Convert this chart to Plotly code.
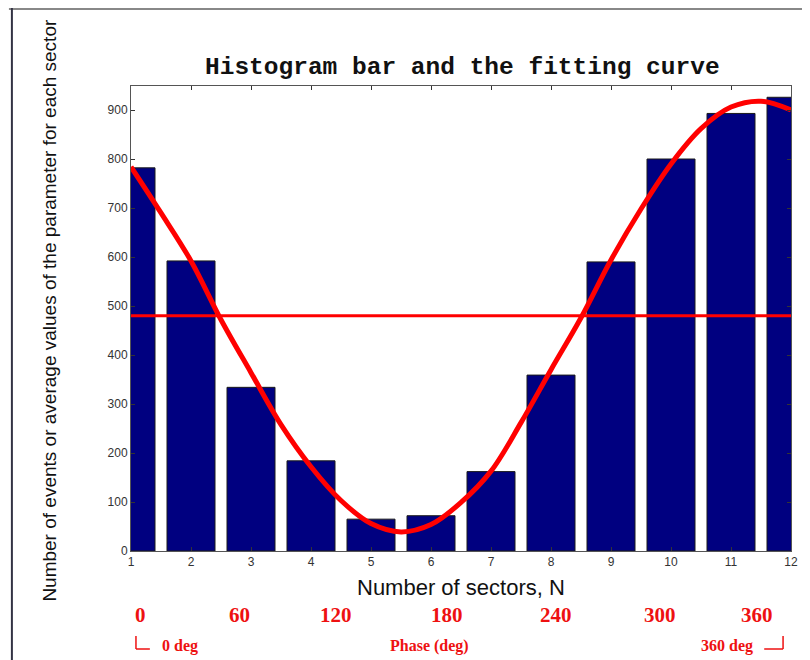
import plotly.graph_objects as go

# ---------------- data ----------------
sectors = [1, 2, 3, 4, 5, 6, 7, 8, 9, 10, 11, 12]
counts = [782, 592, 334, 184, 65, 72, 162, 359, 590, 800, 893, 926]

mean_level = 480

curve_x = [1.0, 1.5, 2.0, 2.5, 3.0, 3.5, 4.0, 4.5, 5.0, 5.5, 6.0, 6.5,
           7.0, 7.5, 8.0, 8.5, 9.0, 9.5, 10.0, 10.5, 11.0, 11.5, 12.0]
curve_y = [784, 690, 592, 472, 364, 258, 172, 103, 56, 39, 54, 99,
           163, 262, 370, 476, 594, 698, 790, 862, 906, 918, 900]

y_ticks = [0, 100, 200, 300, 400, 500, 600, 700, 800, 900]
phase_labels = ["0", "60", "120", "180", "240", "300", "360"]

# ---------------- layout helpers ----------------
# page body has an 8px margin, so the figure is drawn 8px right/down
OFF = 8
W, H = 810 - OFF, 660 - OFF
PL, PR, PT, PB = 131, 796, 86, 551          # plot area in window pixels
L, T = PL - OFF, PT - OFF
R = W - (PR - OFF)
B = H - (PB - OFF)
PW, PH = PR - PL, PB - PT


def px(x):
    return (x - PL) / PW


def py(y):
    return (PB - y) / PH


fig = go.Figure()
fig.add_trace(go.Bar(
    x=sectors, y=counts, width=0.8,
    marker=dict(color="#000080", line=dict(color="#1a1a1a", width=1)),
    showlegend=False, hoverinfo="skip"))
fig.add_trace(go.Scatter(
    x=[sectors[0], sectors[-1]], y=[mean_level, mean_level], mode="lines",
    line=dict(color="#ff0000", width=3), showlegend=False))
fig.add_trace(go.Scatter(
    x=curve_x, y=curve_y, mode="lines",
    line=dict(color="#ff0000", width=5, shape="spline", smoothing=1.0),
    showlegend=False))

axis_common = dict(showline=True, linecolor="#555555", linewidth=1,
                   mirror="ticks", ticks="inside", ticklen=4, tickcolor="#333333",
                   showgrid=False, zeroline=False,
                   tickfont=dict(family="Liberation Sans", size=12, color="#333333"))

fig.update_xaxes(range=[1, 12], tickmode="array", tickvals=sectors,
                 ticktext=[str(s) for s in sectors], **axis_common)
fig.update_yaxes(range=[0, 949], tickmode="array", tickvals=y_ticks,
                 ticktext=[str(v) for v in y_ticks], **axis_common)

ann = []
# title
ann.append(dict(x=px(465), y=py(68), text="<b>Histogram bar and the fitting curve</b>",
                font=dict(family="Liberation Mono", size=24.5, color="#111111")))
# x title
ann.append(dict(x=px(464), y=py(587), text="Number of sectors, N",
                font=dict(family="Liberation Sans", size=22, color="#111111")))
# y title
ann.append(dict(x=px(48), y=py(310), textangle=-90,
                text="Number of events or average values of the parameter for each sector",
                font=dict(family="Liberation Sans", size=19, color="#111111")))
# phase labels
phase_px = [141, 240, 338, 449, 559, 664, 762]
for lab, xx in zip(phase_labels, phase_px):
    ann.append(dict(x=px(xx), y=py(615), text="<b>%s</b>" % lab,
                    font=dict(family="Liberation Serif", size=21, color="#ee1111")))
ann.append(dict(x=px(160), y=py(646), xanchor="left", text="<b>0 deg</b>",
                font=dict(family="Liberation Serif", size=16, color="#ee1111")))
ann.append(dict(x=px(432), y=py(646), text="<b>Phase (deg)</b>",
                font=dict(family="Liberation Serif", size=16, color="#ee1111")))
ann.append(dict(x=px(760), y=py(646), xanchor="right", text="<b>360 deg</b>",
                font=dict(family="Liberation Serif", size=16, color="#ee1111")))
for a in ann:
    a.setdefault("xanchor", "center")
    a.update(xref="paper", yref="paper", yanchor="middle", showarrow=False)

shapes = [
    # outer frame lines
    dict(type="line", x0=px(8), x1=px(810), y0=py(9), y1=py(9),
         line=dict(color="#888888", width=2)),
    dict(type="line", x0=px(11), x1=px(11), y0=py(8), y1=py(660),
         line=dict(color="#333344", width=2)),
    # bracket hooks
    dict(type="line", x0=px(136), x1=px(136), y0=py(636), y1=py(649),
         line=dict(color="#ee1111", width=1.5)),
    dict(type="line", x0=px(136), x1=px(150), y0=py(649), y1=py(649),
         line=dict(color="#ee1111", width=1.5)),
    dict(type="line", x0=px(769), x1=px(788), y0=py(649), y1=py(649),
         line=dict(color="#ee1111", width=1.5)),
    dict(type="line", x0=px(788), x1=px(788), y0=py(636), y1=py(649),
         line=dict(color="#ee1111", width=1.5)),
]
for s in shapes:
    s.update(xref="paper", yref="paper")

fig.update_layout(width=W, height=H, margin=dict(l=L, r=R, t=T, b=B),
                  paper_bgcolor="white", plot_bgcolor="white", bargap=0.2,
                  annotations=ann, shapes=shapes, showlegend=False)

fig.write_html("out.html")
